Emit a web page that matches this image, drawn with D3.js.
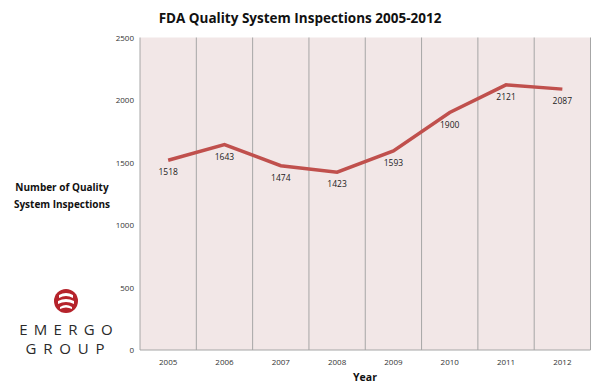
<html>
<head>
<script src="https://d3js.org/d3.v7.min.js"></script>
<style>
  body { margin: 0; background: #fff; }
  text { font-family: "Open Sans", "Liberation Sans", sans-serif; }
</style>
</head>
<body>
<svg id="chart" width="600" height="387"></svg>
<script>
const years = ['2005', '2006', '2007', '2008', '2009', '2010', '2011', '2012']
const inspections = [1518, 1643, 1474, 1423, 1593, 1900, 2121, 2087]
const yTicks = [0, 500, 1000, 1500, 2000, 2500]

const svg = d3.select('svg#chart')
const margins = {top: 37.5, left: 140, bottom: 37, right: 9.5}
const width = 600, height = 387
const chartWidth = width - margins.left - margins.right
const chartHeight = height - margins.top - margins.bottom

const xScale = d3.scaleBand().domain(years).range([0, chartWidth])
const yScale = d3.scaleLinear().domain([0, 2500]).range([chartHeight, 0])

const chart = svg.append('g')
  .attr('transform', `translate(${margins.left}, ${margins.top})`)

chart.append('rect')
  .attr('width', chartWidth).attr('height', chartHeight)
  .attr('fill', '#f2e7e7')

// vertical dividers between years
chart.selectAll('line.div').data(years.slice(1))
  .join('line')
  .attr('class', 'div')
  .attr('x1', d => xScale(d)).attr('x2', d => xScale(d))
  .attr('y1', 0).attr('y2', chartHeight)
  .attr('stroke', '#a6a6a6').attr('stroke-width', 1)

chart.append('line').attr('x1', chartWidth).attr('x2', chartWidth)
  .attr('y1', 0).attr('y2', chartHeight).attr('stroke', '#a6a6a6')
chart.append('line').attr('x1', 0).attr('x2', 0)
  .attr('y1', 0).attr('y2', chartHeight).attr('stroke', '#a6a6a6')
chart.append('line').attr('x1', 0).attr('x2', chartWidth)
  .attr('y1', chartHeight).attr('y2', chartHeight).attr('stroke', '#a6a6a6')

// y tick labels
let yAxis = d3.axisLeft(yScale).tickValues(yTicks).tickFormat(d3.format('d'))
  .tickSize(0).tickPadding(6)
chart.append('g').call(yAxis)
  .call(g => g.select('.domain').remove())
  .selectAll('text').attr('font-size', 8).attr('fill', '#333')
  .attr('font-family', '"Open Sans", sans-serif')

// x tick labels
let xAxis = d3.axisBottom(xScale).tickSize(0).tickPadding(9)
chart.append('g').attr('transform', `translate(0, ${chartHeight})`).call(xAxis)
  .call(g => g.select('.domain').remove())
  .selectAll('text').attr('font-size', 8).attr('fill', '#333')
  .attr('font-family', '"Open Sans", sans-serif')

const cx = d => xScale(d) + xScale.bandwidth() / 2

const line = d3.line()
  .x((d, i) => cx(years[i]))
  .y(d => yScale(d))

chart.append('path').datum(inspections)
  .attr('d', line)
  .attr('fill', 'none')
  .attr('stroke', '#c0504d')
  .attr('stroke-width', 3.5)

chart.selectAll('text.lbl').data(inspections)
  .join('text')
  .attr('class', 'lbl')
  .attr('x', (d, i) => cx(years[i]))
  .attr('y', d => yScale(d) + 15)
  .attr('text-anchor', 'middle')
  .attr('font-size', 8.5)
  .attr('fill', '#222')
  .text(d => d)

// titles
svg.append('text').attr('x', 300).attr('y', 23).attr('text-anchor', 'middle')
  .attr('font-size', 13.5).attr('font-weight', 'bold').attr('fill', '#111')
  .text('FDA Quality System Inspections 2005-2012')

svg.append('text').attr('x', 365).attr('y', 381).attr('text-anchor', 'middle')
  .attr('font-size', 10.5).attr('font-weight', 'bold').attr('fill', '#111')
  .text('Year')

const yt = svg.append('text').attr('text-anchor', 'middle')
  .attr('font-size', 10).attr('font-weight', 'bold').attr('fill', '#111')
yt.append('tspan').attr('x', 62).attr('y', 191).text('Number of Quality')
yt.append('tspan').attr('x', 62).attr('y', 208).text('System Inspections')

// logo
const logo = svg.append('g')
logo.append('circle').attr('cx', 66).attr('cy', 301).attr('r', 12).attr('fill', '#b5232b')
logo.append('path')
  .attr('d', 'M59,295 Q66,291 73,295 L73,298 Q66,294 59,298 Z M58,301 Q66,297 74,301 L74,304 Q66,300 58,304 Z M60,307 Q66,303 72,307 L72,309 Q66,306 60,309 Z')
  .attr('fill', '#fff')
const brand = logo.append('text').attr('text-anchor', 'middle')
  .attr('font-size', 15).attr('fill', '#2a2a2a')
  .attr('font-family', '"Liberation Sans", sans-serif')
brand.append('tspan').attr('x', 66 + 3.1).attr('y', 334.5).attr('letter-spacing', 6.3).text('EMERGO')
brand.append('tspan').attr('x', 65 + 3.4).attr('y', 353.5).attr('letter-spacing', 6.8).text('GROUP')
</script>
</body>
</html>
